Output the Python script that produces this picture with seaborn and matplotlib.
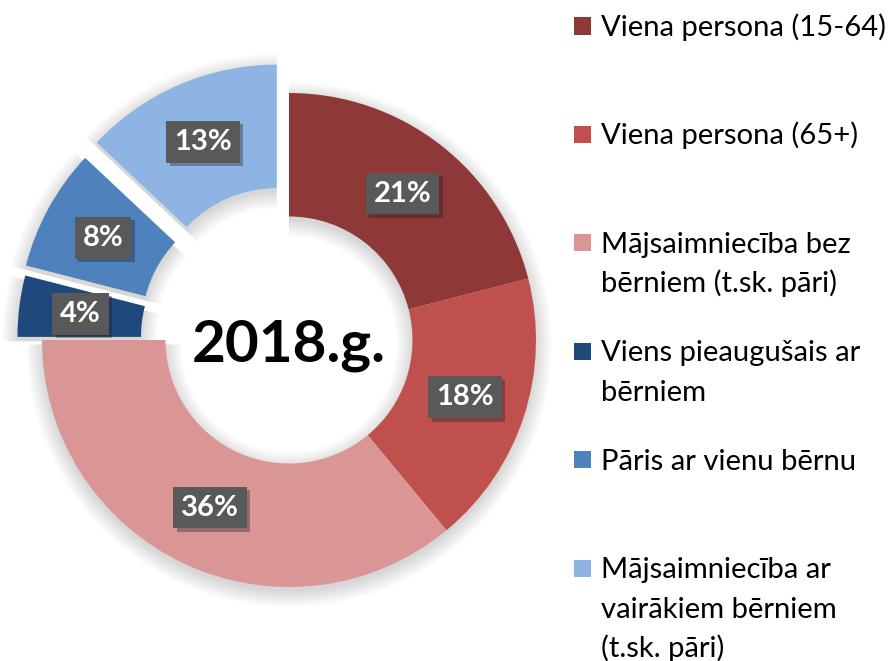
import numpy as np
import matplotlib.pyplot as plt
import matplotlib.patheffects as pe
from matplotlib.patches import Rectangle
import seaborn as sns

# household types, 2018
categories = ['Viena persona (15-64)',
              'Viena persona (65+)',
              'Mājsaimniecība bez\nbērniem (t.sk. pāri)',
              'Viens pieaugušais ar\nbērniem',
              'Pāris ar vienu bērnu',
              'Mājsaimniecība ar\nvairākiem bērniem\n(t.sk. pāri)']
shares = [21, 18, 36, 4, 8, 13]
colors = ['#8E3837', '#C0504D', '#DA9694', '#1F497D', '#4F81BD', '#8DB4E2']
explode = [0, 0, 0, 0.10, 0.11, 0.125]
center_label = '2018.g.'

sns.set_theme(style='white')
plt.rcParams['font.family'] = ['Lato', 'DejaVu Sans']

W, H = 888, 661
fig = plt.figure(figsize=(W / 100, H / 100), dpi=100)
fig.patch.set_facecolor('white')

# donut centre (289, 340) px, outer radius 247 px
cx, cy, rad = 289, 340, 247
lim = 1.2
half = lim * rad
ax = fig.add_axes([(cx - half) / W, (H - cy - half) / H, 2 * half / W, 2 * half / H])

# soft shadow under the ring
for k in range(10):
    ax.pie(shares, explode=explode, startangle=90, counterclock=False,
           radius=1 + 0.007 * k, center=(0, -0.018),
           colors=['black'] * len(shares),
           wedgeprops=dict(width=0.5 + 0.014 * k, linewidth=0, alpha=0.016))

wedges, texts, autotexts = ax.pie(
    shares, colors=colors, explode=explode, startangle=90, counterclock=False,
    wedgeprops=dict(width=0.5, linewidth=0),
    autopct=lambda p: f'{p:.0f}%', pctdistance=0.75,
    textprops=dict(color='white', fontsize=21, fontweight='bold'))

for t in autotexts:
    t.set_bbox(dict(boxstyle='square,pad=0.27', fc='#595959', ec='none'))
    t.get_bbox_patch().set_path_effects([pe.SimplePatchShadow(offset=(2.5, -2.5), alpha=0.35),
                                         pe.Normal()])

ax.text(0, -(362 - cy) / rad, center_label, ha='center', va='baseline',
        fontsize=42, fontweight='bold', color='black')

ax.set_xlim(-lim, lim)
ax.set_ylim(-lim, lim)
ax.set_aspect('equal')
ax.axis('off')

# legend on the right, drawn by hand, one line at a time
step = 108.4
line_gap = 39.5
for i, (lab, col) in enumerate(zip(categories, colors)):
    yc = 26 + i * step
    fig.add_artist(Rectangle((574 / W, 1 - (yc + 8.5) / H), 17 / W, 17 / H,
                             transform=fig.transFigure, fc=col, ec='none'))
    for j, line in enumerate(lab.split('\n')):
        fig.text(601 / W, 1 - (yc + 10 + j * line_gap) / H, line, ha='left',
                 va='baseline', fontsize=21.1, color='black')

fig.savefig('out.png', dpi=100)
